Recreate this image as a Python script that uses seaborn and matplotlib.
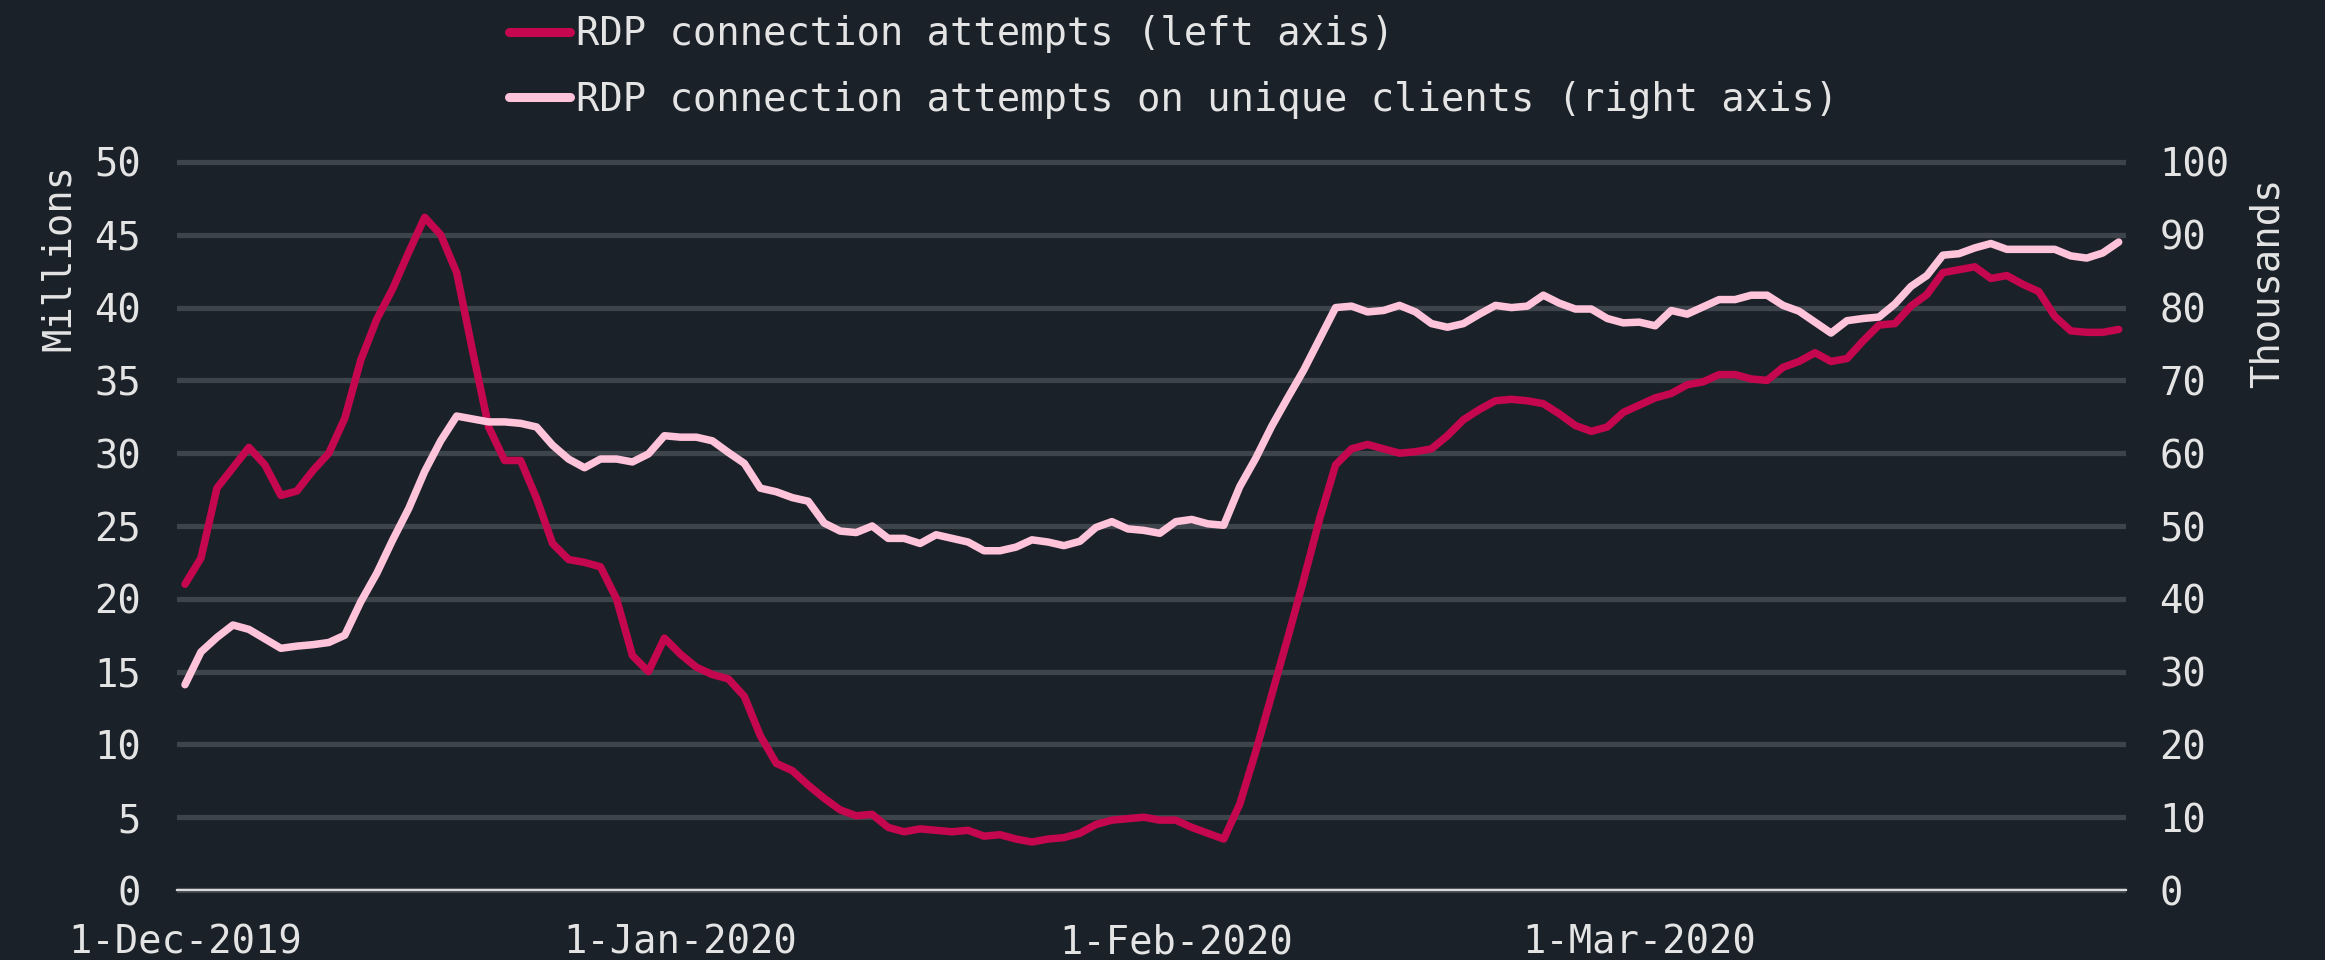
import pandas as pd
import seaborn as sns
import matplotlib.pyplot as plt
import matplotlib.dates as mdates
from matplotlib.ticker import FuncFormatter, MultipleLocator

# daily values, 1-Dec-2019 .. 31-Mar-2020
dates = pd.date_range('2019-12-01', '2020-03-31', freq='D')

# RDP connection attempts, millions (left axis)
attempts_dec = [21.0, 22.8, 27.6, 29.0, 30.4, 29.2, 27.1, 27.4, 28.8, 30.0, 32.4, 36.4, 39.2, 41.3, 43.8, 46.2,
                45.0, 42.4, 37.0, 31.8, 29.5, 29.5, 26.9, 23.8, 22.7, 22.5, 22.2, 20.0, 16.1, 15.0, 17.3]
attempts_jan = [16.2, 15.3, 14.8, 14.5, 13.3, 10.6, 8.7, 8.2, 7.2, 6.3, 5.5, 5.1, 5.2, 4.3, 4.0, 4.2,
                4.1, 4.0, 4.1, 3.7, 3.8, 3.5, 3.3, 3.5, 3.6, 3.9, 4.5, 4.8, 4.9, 5.0, 4.8]
attempts_feb = [4.8, 4.3, 3.9, 3.5, 5.9, 9.5, 13.4, 17.3, 21.3, 25.5, 29.2, 30.3, 30.6, 30.3, 30.0,
                30.1, 30.3, 31.2, 32.3, 33.0, 33.6, 33.7, 33.6, 33.4, 32.7, 31.9, 31.5, 31.8, 32.8]
attempts_mar = [33.3, 33.8, 34.1, 34.7, 34.9, 35.4, 35.4, 35.1, 35.0, 35.9, 36.3, 36.9, 36.3, 36.5, 37.7, 38.8,
                38.9, 40.1, 40.9, 42.4, 42.6, 42.8, 42.0, 42.2, 41.6, 41.1, 39.4, 38.4, 38.3, 38.3, 38.5]

# RDP connection attempts on unique clients, thousands (right axis)
clients_dec = [28.2, 32.7, 34.7, 36.4, 35.8, 34.5, 33.2, 33.5, 33.7, 34.0, 35.0, 39.6, 43.5, 48.1, 52.4, 57.5,
               61.7, 65.1, 64.7, 64.3, 64.3, 64.1, 63.6, 61.1, 59.2, 58.0, 59.2, 59.2, 58.8, 59.9, 62.4]
clients_jan = [62.2, 62.2, 61.7, 60.1, 58.6, 55.2, 54.7, 53.9, 53.4, 50.4, 49.3, 49.1, 50.0, 48.3, 48.3, 47.6,
               48.8, 48.3, 47.8, 46.6, 46.6, 47.1, 48.1, 47.8, 47.3, 47.9, 49.8, 50.6, 49.6, 49.4, 49.0]
clients_feb = [50.6, 50.9, 50.3, 50.1, 55.4, 59.3, 63.7, 67.6, 71.4, 75.7, 80.0, 80.2, 79.4, 79.6, 80.3,
               79.4, 77.8, 77.3, 77.8, 79.1, 80.3, 80.0, 80.2, 81.7, 80.6, 79.8, 79.8, 78.5, 77.9]
clients_mar = [78.0, 77.5, 79.6, 79.1, 80.1, 81.1, 81.1, 81.7, 81.7, 80.3, 79.5, 78.0, 76.5, 78.2, 78.5, 78.7,
               80.5, 82.9, 84.4, 87.2, 87.4, 88.2, 88.8, 88.0, 88.0, 88.0, 88.0, 87.1, 86.8, 87.5, 89.0]

attempts = attempts_dec + attempts_jan + attempts_feb + attempts_mar
clients = clients_dec + clients_jan + clients_feb + clients_mar

label_attempts = 'RDP connection attempts (left axis)'
label_clients = 'RDP connection attempts on unique clients (right axis)'

BG = '#1b2129'
TXT = '#e4e4e4'
GRID = '#3d444c'
RED = '#c4074f'
PINK = '#ffc4da'

sns.set_theme(style='dark', rc={
    'figure.facecolor': BG, 'axes.facecolor': BG, 'savefig.facecolor': BG,
    'text.color': TXT, 'axes.labelcolor': TXT,
    'xtick.color': TXT, 'ytick.color': TXT,
})
plt.rcParams['font.family'] = ['DejaVu Sans Mono', 'DejaVu Sans']
plt.rcParams['font.size'] = 28

df = pd.DataFrame({'date': dates, 'attempts': attempts, 'clients': clients})

fig = plt.figure(figsize=(23.25, 9.6), dpi=100)
# axes placed to match reference pixel box
ax = fig.add_axes([177 / 2325, 1 - 894.4 / 960, (2126 - 177) / 2325, (894.4 - 157.6) / 960])
ax2 = ax.twinx()

line_kw = dict(linewidth=5.4, solid_capstyle='round', solid_joinstyle='round', legend=False)
sns.lineplot(data=df, x='date', y='attempts', ax=ax, color=RED, **line_kw)
sns.lineplot(data=df, x='date', y='clients', ax=ax2, color=PINK, **line_kw)

ax.set_xlim(dates[0] - pd.Timedelta(hours=12), dates[-1] + pd.Timedelta(hours=11))
ax.set_ylim(-0.3, 50.3)
ax2.set_ylim(-0.6, 100.6)
ax.yaxis.set_major_locator(MultipleLocator(5))
ax2.yaxis.set_major_locator(MultipleLocator(10))

ax.xaxis.set_major_locator(mdates.MonthLocator())
ax.xaxis.set_major_formatter(FuncFormatter(
    lambda v, pos: (lambda d: f'{d.day}-{d:%b-%Y}')(mdates.num2date(v))))

ax.grid(axis='y', color=GRID, linewidth=3.8)
ax.grid(axis='x', visible=False)
ax2.grid(False)

for a in (ax, ax2):
    for s in a.spines.values():
        s.set_visible(False)
ax.spines['bottom'].set_visible(True)
ax.spines['bottom'].set_position(('data', 0))
ax.spines['bottom'].set_color('#d8d8d8')
ax.spines['bottom'].set_linewidth(1.6)

ax.tick_params(axis='x', length=0, pad=24, labelsize=28)
ax.tick_params(axis='y', length=0, pad=26, labelsize=28)
ax2.tick_params(axis='y', length=0, pad=24, labelsize=28)

ax.set_xlabel('')
ax.set_ylabel('Millions', fontsize=28)
ax.yaxis.set_label_coords(-0.051, 0.865)
ax2.set_ylabel('Thousands', fontsize=28)
ax2.yaxis.set_label_coords(1.063, 0.83)

h1 = ax.get_lines()[0]
h2 = ax2.get_lines()[0]
leg = fig.legend([h1, h2], [label_attempts, label_clients],
                 loc='upper left', bbox_to_anchor=(509 / 2325, 0.984),
                 frameon=False, borderpad=0, borderaxespad=0,
                 handlelength=1.57, handletextpad=0.15, labelspacing=0.7,
                 fontsize=28)
for t in leg.get_texts():
    t.set_color(TXT)
for h in leg.legend_handles:
    h.set_linewidth(6.5)

fig.savefig('out.png', dpi=100)
